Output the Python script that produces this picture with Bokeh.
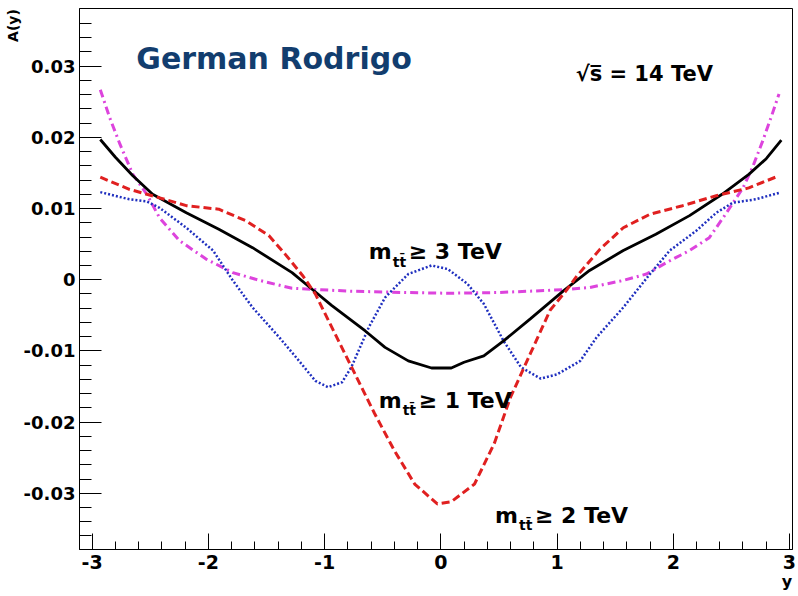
from bokeh.plotting import figure
from bokeh.models import FixedTicker, CustomJSTickFormatter, Label, Range1d
from bokeh.embed import file_html
from bokeh.resources import INLINE

# ---- data ----
x_1tev = [-2.93, -2.80, -2.65, -2.48, -2.19, -1.91, -1.62, -1.28, -1.11, -0.94, -0.65, -0.48,
          -0.28, -0.08, 0.09, 0.20, 0.37, 0.54, 0.77, 1.06, 1.28, 1.57, 1.85, 2.14, 2.42, 2.65,
          2.80, 2.93]
y_1tev = [0.0197, 0.0172, 0.0146, 0.0120, 0.0094, 0.0071, 0.0045, 0.0010, -0.0013, -0.0036,
          -0.0072, -0.0095, -0.0114, -0.0124, -0.0124, -0.0116, -0.0107, -0.0086, -0.0055,
          -0.0015, 0.0013, 0.0041, 0.0064, 0.0090, 0.0120, 0.0148, 0.0170, 0.0196]

x_2tev = [-2.93, -2.68, -2.42, -2.19, -1.91, -1.68, -1.48, -1.34, -1.19, -1.08, -0.91, -0.74,
          -0.57, -0.40, -0.225, -0.03, 0.09, 0.29, 0.46, 0.60, 0.77, 0.94, 1.08, 1.17, 1.37,
          1.57, 1.80, 2.08, 2.37, 2.65, 2.91]
y_2tev = [0.0144, 0.0127, 0.0115, 0.0104, 0.0099, 0.0083, 0.0062, 0.0036, 0.0006, -0.0020,
          -0.0076, -0.0132, -0.0188, -0.0240, -0.0287, -0.0315, -0.0312, -0.0287, -0.0230,
          -0.0165, -0.0104, -0.0043, -0.0015, 0.0005, 0.0043, 0.0073, 0.0092, 0.0104, 0.0118,
          0.0129, 0.0146]

x_3tev = [-2.93, -2.68, -2.53, -2.42, -2.19, -1.96, -1.79, -1.62, -1.39, -1.22, -1.08, -0.97,
          -0.85, -0.77, -0.62, -0.48, -0.28, -0.08, 0.06, 0.23, 0.37, 0.54, 0.69, 0.86, 1.00,
          1.20, 1.34, 1.57, 1.80, 1.97, 2.20, 2.37, 2.51, 2.71, 2.91]
y_3tev = [0.0123, 0.0113, 0.0110, 0.0101, 0.0073, 0.0041, -0.0001, -0.0039, -0.0081, -0.0114,
          -0.0142, -0.0151, -0.0144, -0.0123, -0.0067, -0.0025, 0.0008, 0.0020, 0.0015,
          -0.0006, -0.0034, -0.0086, -0.0123, -0.0139, -0.0133, -0.0114, -0.0081, -0.0039,
          0.0008, 0.0041, 0.0069, 0.0094, 0.0108, 0.0113, 0.0122]

x_incl = [-2.93, -2.85, -2.76, -2.65, -2.53, -2.42, -2.25, -2.02, -1.79, -1.56, -1.28, -0.80,
          -0.30, 0.06, 0.50, 1.06, 1.28, 1.57, 1.77, 1.94, 2.14, 2.31, 2.45, 2.60, 2.68, 2.77,
          2.85, 2.91]
y_incl = [0.0267, 0.0228, 0.0190, 0.0148, 0.0120, 0.0087, 0.0055, 0.0029, 0.0010, -0.0001,
          -0.0012, -0.0016, -0.0018, -0.0019, -0.0018, -0.0014, -0.0011, -0.0001, 0.0008,
          0.0024, 0.0041, 0.0059, 0.0092, 0.0129, 0.0157, 0.0195, 0.0232, 0.0261]

x_ticks = [-3, -2, -1, 0, 1, 2, 3]
y_ticks = [-0.03, -0.02, -0.01, 0.0, 0.01, 0.02, 0.03]

FONT = "DejaVu Sans"
NBSP = "\u00a0"

p = figure(width=798, height=596, output_backend="svg", toolbar_location=None,
           x_range=Range1d(-3.109, 3.026), y_range=Range1d(-0.0379, 0.0381),
           min_border_left=79, min_border_right=6, min_border_top=8, min_border_bottom=47)
p.background_fill_color = "white"
p.border_fill_color = "white"
p.outline_line_color = "black"
p.outline_line_width = 1
p.xgrid.visible = False
p.ygrid.visible = False

p.xaxis.ticker = FixedTicker(ticks=x_ticks,
                             minor_ticks=[round(-3 + 0.2 * i, 2) for i in range(31)])
p.yaxis.ticker = FixedTicker(ticks=y_ticks,
                             minor_ticks=[round(-0.036 + 0.002 * i, 4) for i in range(37)])
p.yaxis.formatter = CustomJSTickFormatter(
    code="if (Math.abs(tick) < 1e-9) { return '0'; } return tick.toFixed(2);")
p.xaxis.formatter = CustomJSTickFormatter(code="return tick.toFixed(0);")

for ax in (p.xaxis, p.yaxis):
    ax.axis_line_color = "black"
    ax.axis_line_width = 1
    ax.major_tick_line_color = "black"
    ax.minor_tick_line_color = "black"
    ax.major_tick_out = 0
    ax.minor_tick_out = 0
    ax.major_label_text_font = FONT
    ax.major_label_text_font_style = "bold"
    ax.major_label_text_color = "black"
    ax.axis_label_align = "end"
    ax.axis_label_text_font = FONT
    ax.axis_label_text_font_style = "bold"
    ax.axis_label_text_color = "black"

p.yaxis.major_tick_in = 22
p.yaxis.minor_tick_in = 12
p.yaxis.major_label_text_font_size = "18px"
p.yaxis.major_label_standoff = 4
p.yaxis.axis_label = "A(y)" + NBSP * 7
p.yaxis.axis_label_standoff = 0
p.yaxis.axis_label_text_font_size = "14px"

p.xaxis.major_tick_in = 16
p.xaxis.minor_tick_in = 8
p.xaxis.major_label_text_font_size = "19px"
p.xaxis.major_label_standoff = 5
p.xaxis.axis_label = "y" + NBSP * 2
p.xaxis.axis_label_standoff = 0
p.xaxis.axis_label_text_font_size = "16px"

p.line(x_incl, y_incl, line_color="#dd44dd", line_width=3, line_dash="8 4 2 4")
p.line(x_3tev, y_3tev, line_color="#1f2fbf", line_width=2.5, line_dash="2 2")
p.line(x_1tev, y_1tev, line_color="black", line_width=2.8)
p.line(x_2tev, y_2tev, line_color="#e02020", line_width=3, line_dash="8 4")


def lab(x, y, text, size, xo=0, yo=0, color="black"):
    p.add_layout(Label(x=x, y=y, x_units="data", y_units="data", text=text,
                       x_offset=xo, y_offset=yo,
                       text_font=FONT, text_font_style="bold", text_font_size=size,
                       text_color=color, text_align="left", text_baseline="alphabetic"))


# author / energy
lab(-2.62, 0.0311, "German Rodrigo", "30px", color="#123d6e")
lab(1.16, 0.0289, "\u221as\u0305 = 14 TeV", "21px")

# mass-cut labels
for (lx, ly, cut) in [(-0.62, 0.0039, "3"), (-0.535, -0.01693, "1"), (0.466, -0.0331, "2")]:
    lab(lx, ly, "m", "22px")
    lab(lx, ly, "tt\u0304", "14px", xo=24, yo=-10)
    lab(lx, ly, "\u2265 " + cut + " TeV", "22px", xo=40)

open("out.html", "w").write(file_html(p, INLINE))
